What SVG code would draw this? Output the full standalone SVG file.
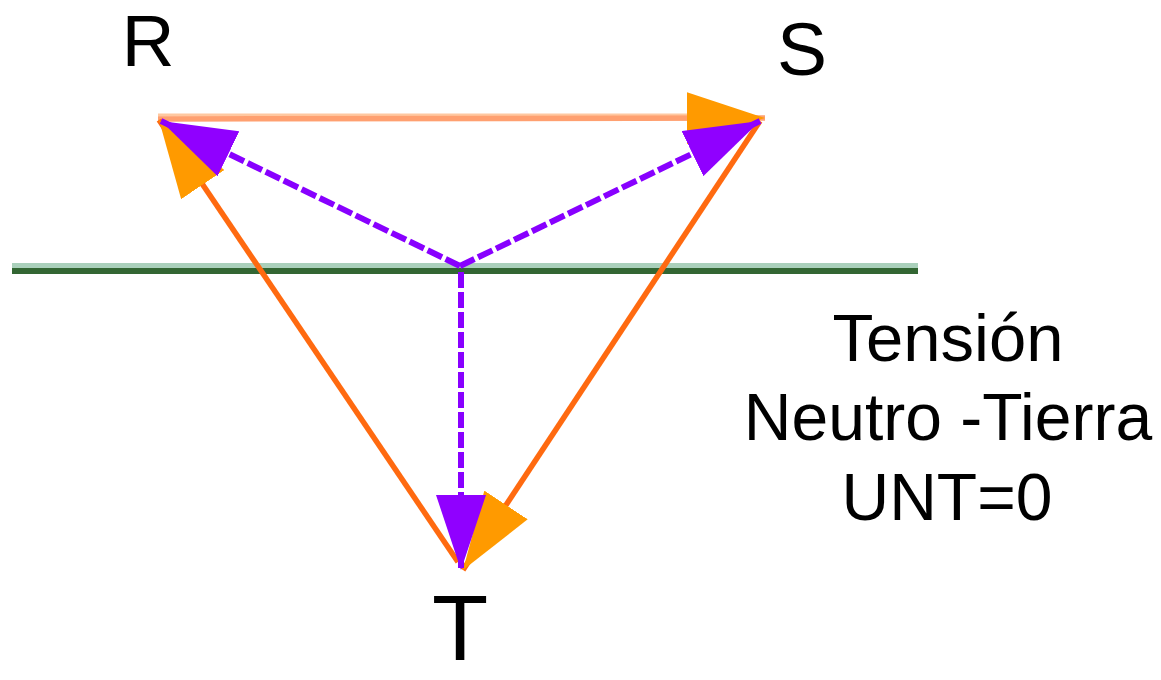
<svg xmlns="http://www.w3.org/2000/svg" width="1161" height="680" viewBox="0 0 1161 680">
<style>
.lbl{font-family:"Liberation Sans",Arial,sans-serif;fill:#000;text-anchor:middle}
.ph{stroke:#FF6A10;stroke-width:5.5;fill:none}
.ne{stroke:#8800FF;stroke-width:6;fill:none;stroke-dasharray:16 4}
</style>
<defs>
<marker id="ao" markerUnits="userSpaceOnUse" viewBox="0 0 78 52" markerWidth="78" markerHeight="52" refX="78" refY="26" orient="auto">
<path d="M0,0 L78,26 L0,52 Z" fill="#FF9A00"/>
</marker>
<marker id="ap" markerUnits="userSpaceOnUse" viewBox="0 0 75 50" markerWidth="75" markerHeight="50" refX="75" refY="25" orient="auto">
<path d="M0,0 L75,25 L0,50 Z" fill="#9000FF"/>
</marker>
</defs>
<rect width="1161" height="680" fill="#fff"/>
<g id="tierra">
<rect x="12" y="263" width="906" height="5" fill="#AAD0BB"/>
<rect x="12" y="268" width="906" height="6" fill="#336633"/>
</g>
<g id="connectors">
<line x1="158" y1="115" x2="700" y2="115" stroke="#FFC8A0" stroke-width="3"/>
<line class="ph" x1="158" y1="119" x2="765" y2="118" style="stroke:#FFA070" marker-end="url(#ao)"/>
<line class="ph" x1="760" y1="121" x2="463" y2="570" marker-end="url(#ao)"/>
<line class="ph" x1="458" y1="562" x2="159" y2="120" marker-end="url(#ao)"/>
<line class="ne" x1="460" y1="266" x2="161" y2="121" marker-end="url(#ap)"/>
<line class="ne" x1="460" y1="266" x2="760" y2="121" marker-end="url(#ap)"/>
<line class="ne" x1="461" y1="272" x2="461" y2="570" marker-end="url(#ap)"/>
</g>
<g id="R"><text class="lbl" x="148" y="66" font-size="73">R</text></g>
<g id="S"><text class="lbl" x="802" y="75" font-size="75">S</text></g>
<g id="T"><text class="lbl" x="460" y="660" font-size="92">T</text></g>
<g id="label">
<text class="lbl" x="948" y="361" font-size="67">Tensión</text>
<text class="lbl" x="948" y="440" font-size="66">Neutro -Tierra</text>
<text class="lbl" x="947" y="520" font-size="66">UNT=0</text>
</g>
</svg>
